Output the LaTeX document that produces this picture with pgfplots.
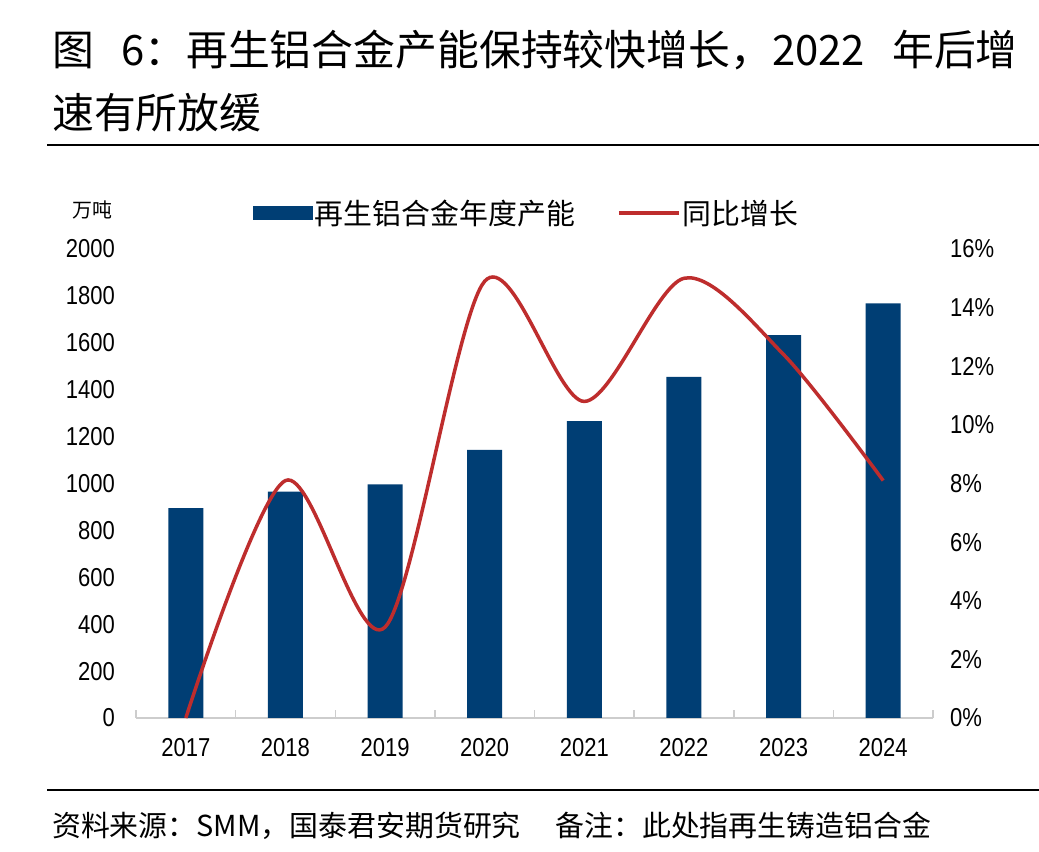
\documentclass[border=0pt]{standalone}
\usepackage{fontspec}
\setmainfont{Liberation Sans}
\newfontfamily\cjk{Noto Sans CJK SC}
\newfontfamily\narrow[FakeStretch=0.85]{Liberation Sans}
\usepackage{pgfplots}
\pgfplotsset{compat=1.18}

\definecolor{barblue}{RGB}{0,62,116}
\definecolor{linered}{RGB}{190,45,45}
\definecolor{axisgray}{RGB}{205,205,205}

\begin{document}
\begin{tikzpicture}[x=1bp,y=1bp]
\path[use as bounding box,fill=white] (0,0) rectangle (1039,852);

% title and rules
\node[anchor=west,inner sep=0] at (52,802) {\cjk\fontsize{42}{42}\selectfont 图\hspace{0.65em}6：再生铝合金产能保持较快增长，2022\hspace{0.65em}年后增};
\node[anchor=west,inner sep=0] at (52,739) {\cjk\fontsize{42}{42}\selectfont 速有所放缓};
\draw[line width=1.6bp] (47,707) -- (1039,707);
\draw[line width=1.6bp] (47,62) -- (1039,62);
\node[anchor=west,inner sep=0] at (52,26) {\cjk\fontsize{29}{29}\selectfont 资料来源：SMM，国泰君安期货研究\hspace{1.2em}备注：此处指再生铸造铝合金};
\node[inner sep=0] at (92,642) {\cjk\fontsize{20}{20}\selectfont 万吨};

% bars, left axis
\begin{axis}[
  at={(136bp,134bp)}, anchor=south west,
  scale only axis, width=797bp, height=469bp,
  xmin=-0.5, xmax=7.5, ymin=0, ymax=2000,
  axis y line*=left, axis x line*=bottom,
  y axis line style={draw=none},
  x axis line style={draw=axisgray, line width=2bp, -},
  xtick={0,...,7},
  xticklabels={2017,2018,2019,2020,2021,2022,2023,2024},
  minor xtick={-0.5,0.5,...,7.5},
  major tick length=0pt, minor tick length=8bp,
  tick align=inside,
  minor tick style={draw=axisgray, line width=1.5bp},
  ytick={0,200,...,2000},
  tick label style={font=\narrow\fontsize{26}{26}\selectfont, inner sep=0pt},
  /pgf/number format/assume math mode=true,
  /pgf/number format/1000 sep={},
  xticklabel style={anchor=north, yshift=-20bp},
  yticklabel style={anchor=east, xshift=-21bp},
  legend columns=2,
  legend style={draw=none, fill=none, at={(0.49,1.04)}, anchor=south,
    font=\cjk\fontsize{29}{29}\selectfont,
    /tikz/every even column/.append style={column sep=40bp}},
]
\addplot[ybar, bar width=35bp, fill=barblue, draw=none,
  legend image code/.code={\fill[barblue] (0bp,-7bp) rectangle (60bp,7bp);}]
  coordinates {(0,895)(1,965)(2,996)(3,1143)(4,1266)(5,1455)(6,1633)(7,1768)};
\addlegendentry{再生铝合金年度产能}
\addlegendimage{legend image code/.code={\draw[linered, line width=3.5bp] (0bp,0bp) -- (60bp,0bp);}}
\addlegendentry{同比增长}
\end{axis}

% growth line, right axis
\begin{axis}[
  at={(136bp,134bp)}, anchor=south west,
  scale only axis, width=797bp, height=469bp,
  xmin=-0.5, xmax=7.5, ymin=0, ymax=16,
  axis y line*=right, axis x line=none,
  y axis line style={draw=none},
  ytick={0,2,...,16},
  yticklabels={0\%,2\%,4\%,6\%,8\%,10\%,12\%,14\%,16\%},
  major tick length=0pt,
  tick label style={font=\narrow\fontsize{26}{26}\selectfont, inner sep=0pt},
  yticklabel style={anchor=west, xshift=17bp},
  clip=false,
]
\addplot[smooth, linered, line width=3.5bp, no markers]
  coordinates {(0,0)(1,8.1)(2,3.1)(3,14.9)(4,10.8)(5,15.0)(6,12.4)(7,8.1)};
\end{axis}
\end{tikzpicture}
\end{document}
